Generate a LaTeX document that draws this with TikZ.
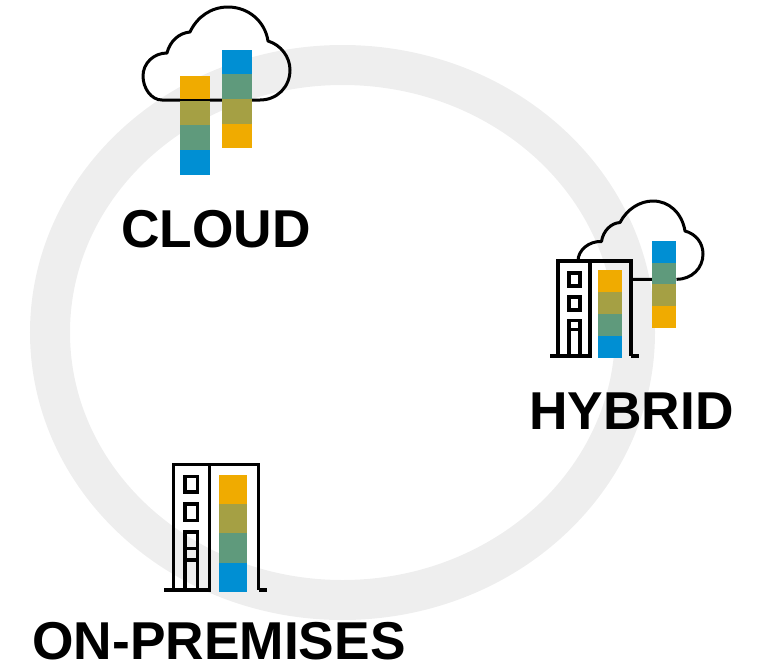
\documentclass[tikz,border=0pt]{standalone}
\usepackage{fontspec}
\setmainfont{Liberation Sans}
\definecolor{ringgrey}{HTML}{EEEEEE}
\definecolor{barorange}{HTML}{F0AB00}
\definecolor{barolive}{HTML}{A5A044}
\definecolor{bargreen}{HTML}{5F9A7C}
\definecolor{barblue}{HTML}{008FD3}
\tikzset{
  ring/.style={draw=ringgrey,line width=40pt},
  outline/.style={draw=black,line width=3pt,line join=round},
  bldg/.style={draw=black,line join=miter},
  caption/.style={font=\fontsize{53.3}{53}\selectfont\bfseries,anchor=base,inner sep=0pt,text=black}
}
\newcommand{\colbar}[7]{%
  \fill[\cola] (#1,#3) rectangle (#2,#4);
  \fill[\colb] (#1,#4) rectangle (#2,#5);
  \fill[\colc] (#1,#5) rectangle (#2,#6);
  \fill[\cold] (#1,#6) rectangle (#2,#7);
}
\newcommand{\downbar}[7]{\def\cola{barorange}\def\colb{barolive}\def\colc{bargreen}\def\cold{barblue}\colbar{#1}{#2}{#3}{#4}{#5}{#6}{#7}}
\newcommand{\upbar}[7]{\def\cola{barblue}\def\colb{bargreen}\def\colc{barolive}\def\cold{barorange}\colbar{#1}{#2}{#3}{#4}{#5}{#6}{#7}}
\begin{document}
\begin{tikzpicture}[x=1pt,y=-1pt]
\useasboundingbox (0,0) rectangle (760,664);
\draw[ring] (342.5,332.5) ellipse [x radius=292.5,y radius=267.5];

% cloud icon
\draw[outline] (162,100) .. controls (151,100) and (143,88) .. (143,76)
  .. controls (143,63) and (154,53) .. (167,53)
  .. controls (170,41) and (179,33) .. (190,32)
  .. controls (197,17) and (211,7) .. (228,7)
  .. controls (248,7) and (265,21) .. (268,41)
  .. controls (281,45) and (290,57) .. (290,70)
  .. controls (290,87) and (277,100) .. (260,100) -- cycle;
\downbar{180}{210}{75.5}{100}{125}{150}{174.5}
\upbar{221.7}{252}{49.5}{74}{99}{123.7}{148.3}
\draw[draw=black,line width=1.5pt] (180,100) -- (210,100);

% hybrid icon
\draw[outline] (578,261) .. controls (578,250) and (589,241) .. (601.5,241.5)
  .. controls (603,231) and (611,223) .. (620,222.5)
  .. controls (627,209) and (640,201) .. (653,201)
  .. controls (669,201) and (682,213) .. (685,231)
  .. controls (696,234) and (703,243) .. (703,254)
  .. controls (703,268) and (692,279.3) .. (676.5,279.3)
  (631,279.3) -- (652,279.3);
\upbar{651.7}{676.3}{240.7}{262.7}{284.3}{306}{328}
\begin{scope}[bldg,line width=3.2pt]
  \draw (558,356) -- (558,261) -- (631,261) -- (631,356);
  \draw (590,261) -- (590,356);
  \draw (550,356) -- (591.5,356) (631,356) -- (639,356);
  \draw (569,273) rectangle (580,286);
  \draw (569,297) rectangle (580,310);
  \draw (569,356) -- (569,320.5) -- (580,320.5) -- (580,356) (569,329.5) -- (580,329.5);
\end{scope}
\downbar{597.7}{622}{270.3}{292.3}{314.3}{336}{357.7}

% on-premises icon
\begin{scope}[bldg,line width=3.8pt]
  \draw (173.5,590) -- (173.5,464.5) -- (258.5,464.5) -- (258.5,590);
  \draw (209.5,464.5) -- (209.5,590);
  \draw (164,590) -- (211,590) (258.5,590) -- (267,590);
  \draw (185,476.5) rectangle (197.5,492);
  \draw (185,504) rectangle (197.5,520.5);
  \draw (185,590) -- (185,532) -- (197.5,532) -- (197.5,590) (185,548.5) -- (197.5,548.5) (185,560) -- (197.5,560);
\end{scope}
\downbar{219}{247}{474.7}{504}{533.3}{562.7}{591.7}

\node[caption] (cloudlabel) at (216,247) {CLOUD};
\node[caption] (hybridlabel) at (631.5,429) {HYBRID};
\node[caption] (onpremlabel) at (219,659.5) {ON-PREMISES};
\end{tikzpicture}
\end{document}
